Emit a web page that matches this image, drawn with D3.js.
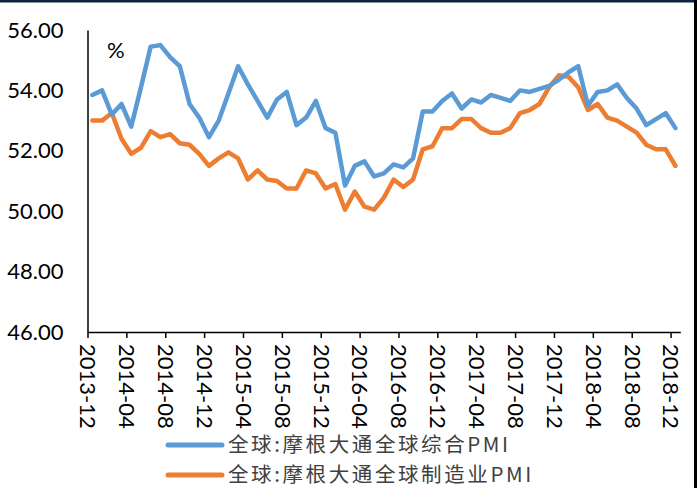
<!DOCTYPE html>
<html>
<head>
<meta charset="utf-8">
<script src="https://cdn.jsdelivr.net/npm/d3@7"></script>
<style>
  html, body { margin: 0; padding: 0; background: #fff; }
  svg { display: block; }
</style>
</head>
<body>
<svg id="chart" width="697" height="488"></svg>
<script>
const months = [
  "2013-12",
  "2014-01","2014-02","2014-03","2014-04","2014-05","2014-06","2014-07","2014-08","2014-09","2014-10","2014-11","2014-12",
  "2015-01","2015-02","2015-03","2015-04","2015-05","2015-06","2015-07","2015-08","2015-09","2015-10","2015-11","2015-12",
  "2016-01","2016-02","2016-03","2016-04","2016-05","2016-06","2016-07","2016-08","2016-09","2016-10","2016-11","2016-12",
  "2017-01","2017-02","2017-03","2017-04","2017-05","2017-06","2017-07","2017-08","2017-09","2017-10","2017-11","2017-12",
  "2018-01","2018-02","2018-03","2018-04","2018-05","2018-06","2018-07","2018-08","2018-09","2018-10","2018-11","2018-12"
];
const tickLabels = ["2013-12","2014-04","2014-08","2014-12","2015-04","2015-08","2015-12","2016-04",
  "2016-08","2016-12","2017-04","2017-08","2017-12","2018-04","2018-08","2018-12"];
const yTicks = [46, 48, 50, 52, 54, 56];
const compositeName = "全球:摩根大通全球综合PMI";
const manufName = "全球:摩根大通全球制造业PMI";
const compositePMI = [
  53.85,
  54.0, 53.2, 53.55, 52.8, 54.1, 55.45, 55.5, 55.1, 54.8, 53.55, 53.1, 52.45,
  53.0, 53.9, 54.8, 54.2, 53.65, 53.1, 53.7, 53.95, 52.85, 53.1, 53.65, 52.75,
  52.6, 50.85, 51.5, 51.65, 51.15, 51.25, 51.55, 51.45, 51.75, 53.3, 53.3, 53.65,
  53.9, 53.4, 53.7, 53.6, 53.85, 53.75, 53.65, 54.0, 53.95, 54.05, 54.15, 54.35,
  54.6, 54.8, 53.5, 53.95, 54.0, 54.2, 53.75, 53.4, 52.85, 53.05, 53.25, 52.75
];
const manufPMI = [
  53.0,
  53.0, 53.25, 52.4, 51.9, 52.1, 52.65, 52.45, 52.55, 52.25, 52.2, 51.9, 51.5,
  51.75, 51.95, 51.75, 51.05, 51.35, 51.05, 51.0, 50.75, 50.75, 51.35, 51.25, 50.75,
  50.9, 50.05, 50.65, 50.15, 50.05, 50.45, 51.05, 50.8, 51.05, 52.05, 52.15, 52.75,
  52.75, 53.05, 53.05, 52.75, 52.6, 52.6, 52.75, 53.25, 53.35, 53.55, 54.1, 54.5,
  54.45, 54.1, 53.35, 53.55, 53.1, 53.0, 52.8, 52.6, 52.2, 52.05, 52.05, 51.5
];

(function () {
const svg = d3.select("#chart");
const W = 697, H = 488;
const pLeft = 87.5, pRight = 680.3, pTop = 30, pBottom = 332;

const x = d3.scaleLinear().domain([0, months.length]).range([pLeft, pRight]);
const y = d3.scaleLinear().domain([46, 56]).range([pBottom, pTop]);

svg.append("rect").attr("width", W).attr("height", H).attr("fill", "#fff");

svg.append("defs").append("clipPath").attr("id", "clipR")
  .append("rect").attr("x", 0).attr("y", 0).attr("width", 681).attr("height", H);

// Y axis
const yAxis = d3.axisLeft(y).tickValues(yTicks).tickSize(0).tickSizeOuter(0)
  .tickPadding(24).tickFormat(d => d.toFixed(2));
const gy = svg.append("g").attr("transform", `translate(${pLeft},0)`).call(yAxis);
gy.select(".domain").attr("stroke", "#000").attr("stroke-width", 1.5);
gy.selectAll("text").attr("font-family", "Lato, 'Liberation Sans', sans-serif")
  .attr("font-size", 22).attr("fill", "#000");

// X axis
const tickIdx = tickLabels.map(l => months.indexOf(l));
const xAxis = d3.axisBottom(x).tickValues(tickIdx).tickSize(6).tickSizeOuter(0)
  .tickFormat(i => months[i]);
const gx = svg.append("g").attr("clip-path", "url(#clipR)")
  .append("g").attr("transform", `translate(0,${pBottom})`).call(xAxis);
gx.select(".domain").attr("stroke", "#000").attr("stroke-width", 1.5);
gx.selectAll(".tick line").attr("stroke", "#000").attr("stroke-width", 1.5);
gx.selectAll("text")
  .attr("font-family", "Lato, 'Liberation Sans', sans-serif")
  .attr("font-size", 22).attr("fill", "#000")
  .attr("text-anchor", "start")
  .attr("dy", "0.35em")
  .attr("transform", "rotate(90) translate(12,0)")
  .attr("x", 0).attr("y", 0);

// Lines
const line = d3.line().x((d, i) => x(i + 0.5)).y(d => y(d));
const series = [
  { name: compositeName, values: compositePMI, color: "#5B9BD5" },
  { name: manufName, values: manufPMI, color: "#ED7D31" }
];
series.slice().reverse().forEach(s => {
  svg.append("path").datum(s.values).attr("d", line)
    .attr("fill", "none").attr("stroke", s.color).attr("stroke-width", 4.5)
    .attr("stroke-linejoin", "round").attr("stroke-linecap", "round");
});

// % label
svg.append("text").attr("x", 107).attr("y", 50).attr("dy", "0.35em")
  .attr("font-family", "Lato, 'Liberation Sans', sans-serif").attr("font-size", 22)
  .attr("fill", "#000").text("%");

// Legend
const leg = svg.append("g");
series.forEach((s, i) => {
  const ly = 445 + i * 30;
  leg.append("line").attr("x1", 168).attr("x2", 222).attr("y1", ly).attr("y2", ly)
    .attr("stroke", s.color).attr("stroke-width", 5).attr("stroke-linecap", "round");
  leg.append("text").attr("x", 228).attr("y", ly).attr("dy", "0.35em")
    .attr("font-family", "'Noto Sans CJK SC', sans-serif").attr("font-size", 20.5)
    .attr("letter-spacing", 2.6)
    .attr("fill", "#404040").text(s.name);
});

// Frame edges
svg.append("rect").attr("x", 0).attr("y", 0).attr("width", W).attr("height", 2.5).attr("fill", "#0d2240");
svg.append("rect").attr("x", 694).attr("y", 0).attr("width", 3).attr("height", H).attr("fill", "#000");
})();
</script>
</body>
</html>
